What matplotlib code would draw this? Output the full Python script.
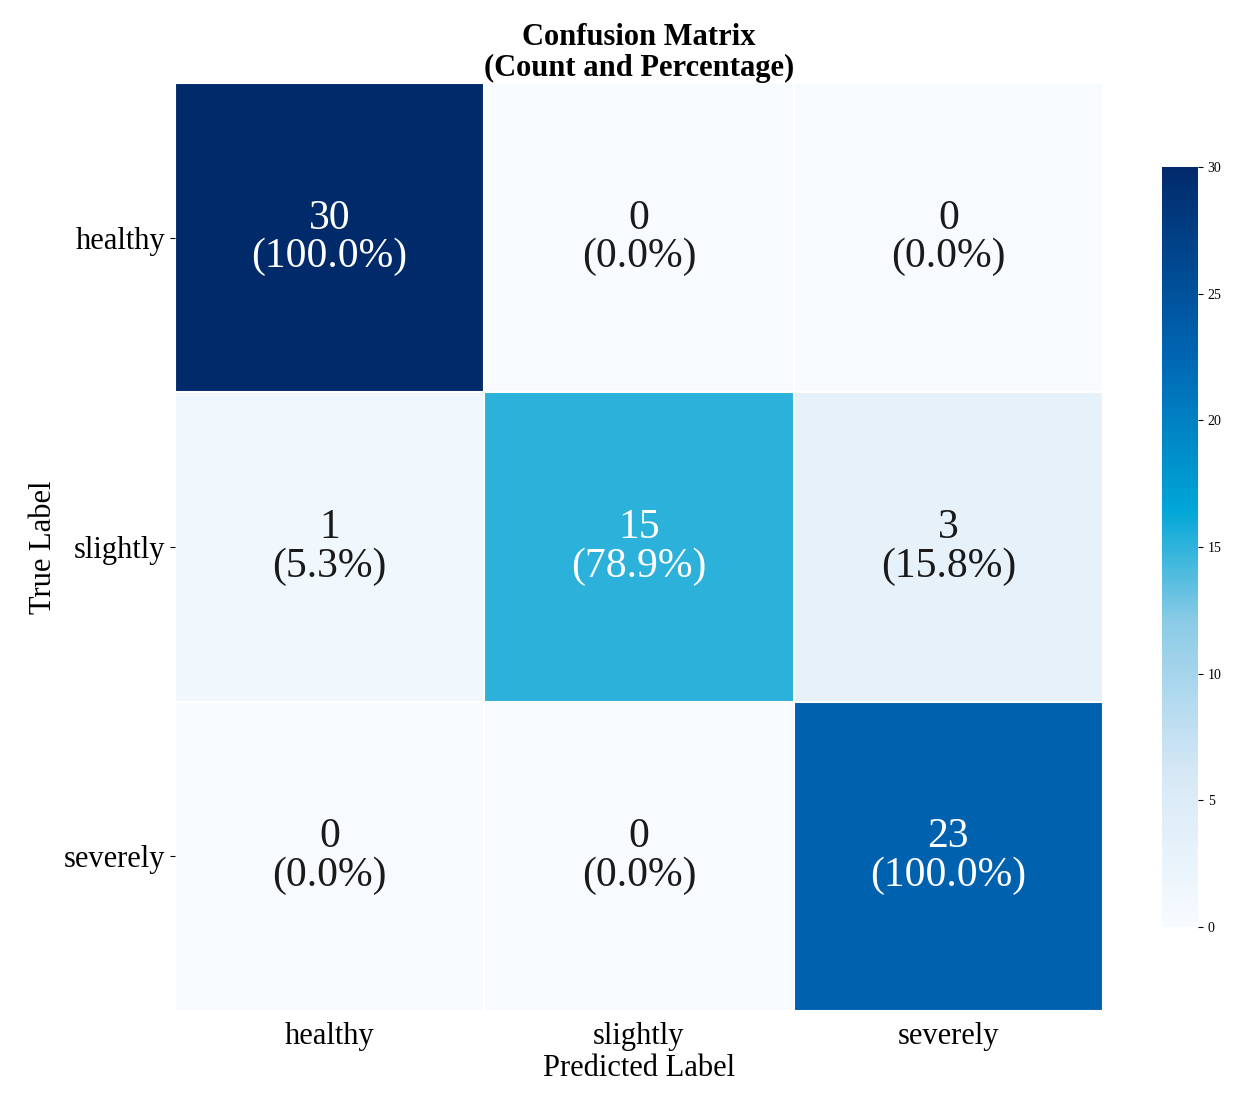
import matplotlib
matplotlib.use("Agg")
import matplotlib.pyplot as plt
import numpy as np
from matplotlib.colors import LinearSegmentedColormap

labels = ["healthy", "slightly", "severely"]
counts = np.array([[30, 0, 0], [1, 15, 3], [0, 0, 23]])
pcts = counts / counts.sum(axis=1, keepdims=True) * 100

plt.rcParams['font.family'] = ['Liberation Serif', 'DejaVu Serif']
cmap = LinearSegmentedColormap.from_list("c", [(0, "#f7fbff"), (0.2, "#d6e8f5"), (0.4, "#8ccbe6"),
                                               (0.55, "#00a6d6"), (0.75, "#0066b4"), (1.0, "#012a6b")])
fig = plt.figure(figsize=(12.4, 10.98), dpi=100)
ax = fig.add_axes([175/1240, 1-1011/1098, 928/1240, 928/1098])
cax = fig.add_axes([1162/1240, 1-927/1098, 36/1240, 760/1098])
im = ax.imshow(counts, cmap=cmap, vmin=0, vmax=30, aspect='auto')
for i in range(3):
    for j in range(3):
        c = "white" if counts[i, j] > 12 else "#1a1a1a"
        ax.text(j, i, f"{counts[i,j]}\n({pcts[i,j]:.1f}%)", ha='center', va='center',
                fontsize=30, color=c, linespacing=1.0)
ax.set_xticks(range(3)); ax.set_xticklabels(labels, fontsize=22)
ax.set_yticks(range(3)); ax.set_yticklabels(labels, fontsize=22)
ax.set_xticks(np.arange(-0.5, 3, 1), minor=True)
ax.set_yticks(np.arange(-0.5, 3, 1), minor=True)
ax.grid(which='minor', color='white', linewidth=1.5)
ax.tick_params(which='minor', length=0)
ax.tick_params(axis='x', length=0, pad=8)
for s in ax.spines.values(): s.set_visible(False)
ax.set_xlabel("Predicted Label", fontsize=22, labelpad=2)
ax.set_ylabel("True Label", fontsize=22)
ax.set_title("Confusion Matrix\n(Count and Percentage)", fontsize=22, fontweight='bold', linespacing=1.1, pad=4)
cb = fig.colorbar(im, cax=cax, ticks=range(0, 31, 5))
cb.outline.set_visible(False)
cb.ax.tick_params(labelsize=10)
fig.savefig("out.png", dpi=100)
